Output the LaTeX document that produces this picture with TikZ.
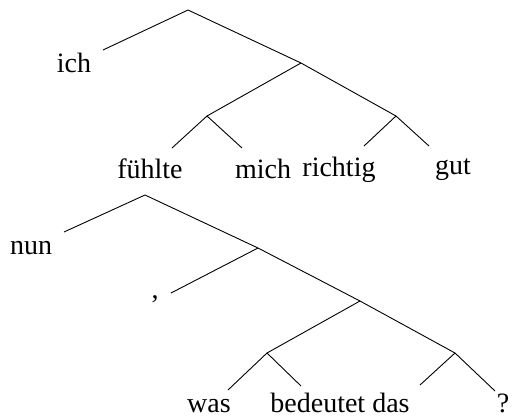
\documentclass[tikz,border=0pt]{standalone}
\usepackage{fontspec}
\setmainfont{Liberation Serif}
\tikzset{
	word/.style={anchor=base, inner sep=0pt, font=\fontsize{28}{34}\selectfont},
	branch/.style={line width=0.9pt}
}
\begin{document}
\begin{tikzpicture}[x=1pt,y=-1pt]
	\useasboundingbox (0,0) rectangle (520,418);
	% first sentence
	\coordinate (r1) at (188,10);
	\coordinate (a1) at (301,63);
	\coordinate (b1) at (207,116);
	\coordinate (c1) at (396,116);
	\coordinate (ichend) at (103,50);
	\coordinate (fuehlteend) at (172,148);
	\coordinate (michend) at (242,148);
	\coordinate (richtigend) at (364,146);
	\coordinate (gutend) at (429,146);
	\node[word] (ich) at (74,72) {ich};
	\node[word] (fuehlte) at (150,178) {fühlte};
	\node[word] (mich) at (263,178) {mich};
	\node[word] (richtig) at (339,176) {richtig};
	\node[word] (gut) at (453,174) {gut};
	\draw[branch] (ichend) -- (r1) -- (a1) -- (c1) -- (gutend);
	\draw[branch] (a1) -- (b1) -- (fuehlteend);
	\draw[branch] (b1) -- (michend);
	\draw[branch] (c1) -- (richtigend);
	% second sentence
	\coordinate (r2) at (145,195);
	\coordinate (d2) at (258,248);
	\coordinate (e2) at (360,301);
	\coordinate (f2) at (267,353);
	\coordinate (g2) at (455,353);
	\coordinate (nunend) at (64,232);
	\coordinate (kommaend) at (171,293);
	\coordinate (wasend) at (228,390);
	\coordinate (bedeutetend) at (301,386);
	\coordinate (dasend) at (420,385);
	\coordinate (frageend) at (495,391);
	\node[word] (nun) at (31,254) {nun};
	\node[word] (komma) at (155,298) {,};
	\node[word] (was) at (209,412) {was};
	\node[word] (bedeutet) at (340,412) {bedeutet das};
	\node[word] (frage) at (503,412) {?};
	\draw[branch] (nunend) -- (r2) -- (d2) -- (e2) -- (g2) -- (frageend);
	\draw[branch] (d2) -- (kommaend);
	\draw[branch] (e2) -- (f2) -- (wasend);
	\draw[branch] (f2) -- (bedeutetend);
	\draw[branch] (g2) -- (dasend);
\end{tikzpicture}
\end{document}
